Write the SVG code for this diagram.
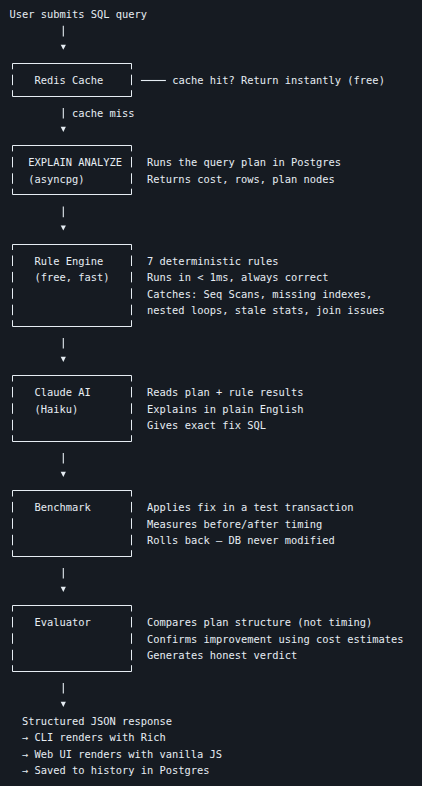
<svg xmlns="http://www.w3.org/2000/svg" width="422" height="786" viewBox="0 0 422 786">
<style>
text{font-family:"DejaVu Sans Mono","Liberation Mono",monospace;font-size:10.4px;fill:#e6edf3;white-space:pre}
.box{fill:none;stroke:#e6edf3;stroke-width:1}
.bar{stroke:#e6edf3;stroke-width:1.1}
.tri{fill:#e6edf3}
</style>
<defs>
<path id="tri" d="M-2.6,-2.2H2.6L0,3Z"/>
</defs>
<rect width="422" height="786" fill="#161b22"/>

<g id="start"><text x="9.4" y="18.3">User submits SQL query</text></g>

<g id="redis-cache">
<path class="box" d="M12.5,69.3V63.5H131.5V69.3M12.5,90.2V96.5H131.5V90.2M12.5,74.7V85.2M131.5,74.7V85.2"/>
<text x="34.4" y="84.02">Redis Cache</text>
</g>
<g id="cache-hit"><text x="172.2" y="84.02">cache hit? Return instantly (free)</text></g>

<g id="explain-analyze">
<path class="box" d="M12.5,151.4V145.5H131.5V151.4M12.5,188.7V194.5H131.5V188.7M12.5,156.9V167.4M131.5,156.9V167.4M12.5,173.3V183.8M131.5,173.3V183.8"/>
<text x="28.2" y="166.17">EXPLAIN ANALYZE</text>
<text x="28.2" y="182.6">(asyncpg)</text>
<text x="147.1" y="166.17">Runs the query plan in Postgres</text>
<text x="147.1" y="182.6">Returns cost, rows, plan nodes</text>
</g>

<g id="rule-engine">
<path class="box" d="M12.5,250V244.5H131.5V250M12.5,320.2V326.5H131.5V320.2M12.5,255.5V266M131.5,255.5V266M12.5,271.9V282.4M131.5,271.9V282.4M12.5,288.3V298.8M131.5,288.3V298.8M12.5,304.7V315.2M131.5,304.7V315.2"/>
<text x="34.4" y="264.75">Rule Engine</text>
<text x="34.4" y="281.18">(free, fast)</text>
<text x="147.1" y="264.75">7 deterministic rules</text>
<text x="147.1" y="281.18">Runs in &lt; 1ms, always correct</text>
<text x="147.1" y="297.61">Catches: Seq Scans, missing indexes,</text>
<text x="147.1" y="314.04">nested loops, stale stats, join issues</text>
</g>

<g id="claude-ai">
<path class="box" d="M12.5,381.5V375.5H131.5V381.5M12.5,435.2V441.5H131.5V435.2M12.5,386.9V397.4M131.5,386.9V397.4M12.5,403.3V413.8M131.5,403.3V413.8M12.5,419.8V430.3M131.5,419.8V430.3"/>
<text x="34.4" y="396.19">Claude AI</text>
<text x="34.4" y="412.62">(Haiku)</text>
<text x="147.1" y="396.19">Reads plan + rule results</text>
<text x="147.1" y="412.62">Explains in plain English</text>
<text x="147.1" y="429.05">Gives exact fix SQL</text>
</g>

<g id="benchmark">
<path class="box" d="M12.5,496.5V490.5H131.5V496.5M12.5,550.2V556.5H131.5V550.2M12.5,501.9V512.4M131.5,501.9V512.4M12.5,518.3V528.8M131.5,518.3V528.8M12.5,534.8V545.3M131.5,534.8V545.3"/>
<text x="34.4" y="511.2">Benchmark</text>
<text x="147.1" y="511.2">Applies fix in a test transaction</text>
<text x="147.1" y="527.63">Measures before/after timing</text>
<text x="147.1" y="544.06">Rolls back — DB never modified</text>
</g>

<g id="evaluator">
<path class="box" d="M12.5,611.5V605.5H131.5V611.5M12.5,665.2V671.5H131.5V665.2M12.5,616.9V627.4M131.5,616.9V627.4M12.5,633.3V643.8M131.5,633.3V643.8M12.5,649.8V660.3M131.5,649.8V660.3"/>
<text x="34.4" y="626.21">Evaluator</text>
<text x="147.1" y="626.21">Compares plan structure (not timing)</text>
<text x="147.1" y="642.64">Confirms improvement using cost estimates</text>
<text x="147.1" y="659.07">Generates honest verdict</text>
</g>

<g id="response">
<text x="21.9" y="724.79">Structured JSON response</text>
<text x="21.9" y="741.22">→ CLI renders with Rich</text>
<text x="21.9" y="757.65">→ Web UI renders with vanilla JS</text>
<text x="21.9" y="774.08">→ Saved to history in Postgres</text>
</g>

<g id="connectors">
<line class="bar" x1="140.9" y1="80.5" x2="165.9" y2="80.5"/>
<line class="bar" x1="63.3" y1="25.7" x2="63.3" y2="36.4"/>
<use class="tri" href="#tri" x="63.3" y="46.86"/>
<line class="bar" x1="63.3" y1="107.9" x2="63.3" y2="118.6"/>
<text x="72" y="116.88">cache miss</text>
<use class="tri" href="#tri" x="63.3" y="129.01"/>
<line class="bar" x1="63.3" y1="206.5" x2="63.3" y2="217.2"/>
<use class="tri" href="#tri" x="63.3" y="227.59"/>
<line class="bar" x1="63.3" y1="337.9" x2="63.3" y2="348.6"/>
<use class="tri" href="#tri" x="63.3" y="359.03"/>
<line class="bar" x1="63.3" y1="452.9" x2="63.3" y2="463.6"/>
<use class="tri" href="#tri" x="63.3" y="474.04"/>
<line class="bar" x1="63.3" y1="567.9" x2="63.3" y2="578.6"/>
<use class="tri" href="#tri" x="63.3" y="589.05"/>
<line class="bar" x1="63.3" y1="682.9" x2="63.3" y2="693.6"/>
<use class="tri" href="#tri" x="63.3" y="704.06"/>
</g>
</svg>
